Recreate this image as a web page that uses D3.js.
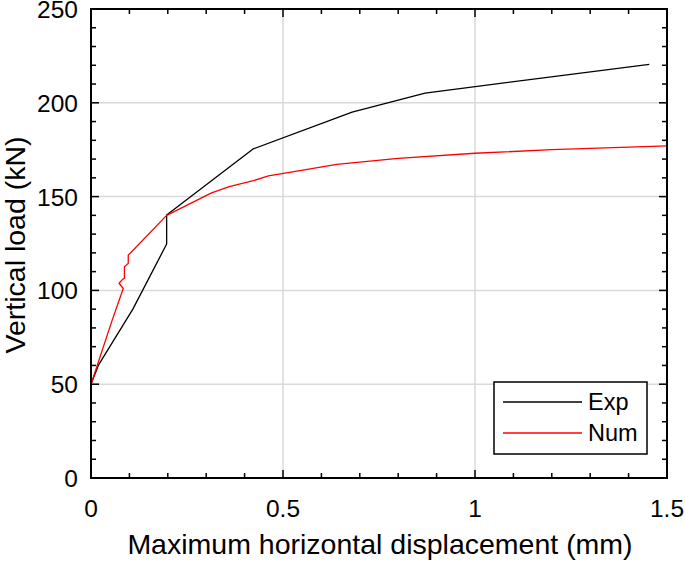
<!DOCTYPE html>
<html>
<head>
<meta charset="utf-8">
<script src="https://cdn.jsdelivr.net/npm/d3@7"></script>
<style>
body { margin: 0; background: #fff; }
text { font-family: "Liberation Sans", Arial, sans-serif; }
</style>
</head>
<body>
<svg id="chart" width="685" height="561"></svg>
<script>
// load vs displacement curves
var expX = [0, 0.019, 0.109, 0.197, 0.197, 0.422, 0.68, 0.87, 1.454];
var expY = [50, 60, 90, 124.7, 140.2, 175.4, 195, 205.2, 220.5];

var numX = [0, 0.055, 0.084, 0.073, 0.083, 0.087, 0.087, 0.097, 0.097, 0.102, 0.197, 0.314, 0.36, 0.423, 0.462, 0.544, 0.64, 0.8, 1.0, 1.2, 1.5];
var numY = [50, 84, 101, 103.8, 106, 106.5, 112.6, 114.4, 118.9, 119.8, 140, 152, 155.3, 158.5, 161, 163.8, 167.2, 170.4, 173.1, 175, 177];

var xTicks = [0, 0.5, 1, 1.5];
var yTicks = [0, 50, 100, 150, 200, 250];
var seriesNames = ["Exp", "Num"];
var seriesColors = ["#000000", "#ff0000"];

var margin = { top: 9, left: 91, right: 18, bottom: 83 };
var width = 685, height = 561;

var svg = d3.select("#chart");

var x = d3.scaleLinear().domain([0, 1.5]).range([margin.left, width - margin.right]);
var y = d3.scaleLinear().domain([0, 250]).range([height - margin.bottom, margin.top]);

// grid
svg.append("g").selectAll("line").data(xTicks.slice(1, -1)).enter().append("line")
    .attr("x1", function(d) { return x(d) }).attr("x2", function(d) { return x(d) })
    .attr("y1", y(0)).attr("y2", y(250))
    .attr("stroke", "#d9d9d9").attr("stroke-width", 1.5);
svg.append("g").selectAll("line").data(yTicks.slice(1, -1)).enter().append("line")
    .attr("y1", function(d) { return y(d) }).attr("y2", function(d) { return y(d) })
    .attr("x1", x(0)).attr("x2", x(1.5))
    .attr("stroke", "#d9d9d9").attr("stroke-width", 1.5);

// lines
var line = d3.line()
    .x(function(d) { return x(d[0]) })
    .y(function(d) { return y(d[1]) });

var series = [d3.zip(expX, expY), d3.zip(numX, numY)];
svg.append("g").selectAll("path").data(series).enter().append("path")
    .attr("d", line)
    .attr("fill", "none")
    .attr("stroke", function(d, i) { return seriesColors[i] })
    .attr("stroke-width", 1.3)
    .attr("stroke-linejoin", "round");

// ticks, inward on all four sides
var xMinor = d3.range(0, 1.5001, 0.1);
var yMinor = d3.range(0, 250.01, 10);
var ticks = svg.append("g").attr("stroke", "#000").attr("stroke-width", 1.5);
xMinor.forEach(function(v) {
    var len = xTicks.some(function(t) { return Math.abs(t - v) < 1e-6 }) ? 8 : 5;
    ticks.append("line").attr("x1", x(v)).attr("x2", x(v)).attr("y1", y(0)).attr("y2", y(0) - len);
    ticks.append("line").attr("x1", x(v)).attr("x2", x(v)).attr("y1", y(250)).attr("y2", y(250) + len);
});
yMinor.forEach(function(v) {
    var len = yTicks.some(function(t) { return Math.abs(t - v) < 1e-6 }) ? 8 : 5;
    ticks.append("line").attr("y1", y(v)).attr("y2", y(v)).attr("x1", x(0)).attr("x2", x(0) + len);
    ticks.append("line").attr("y1", y(v)).attr("y2", y(v)).attr("x1", x(1.5)).attr("x2", x(1.5) - len);
});

// box
svg.append("rect")
    .attr("x", x(0)).attr("y", y(250))
    .attr("width", x(1.5) - x(0)).attr("height", y(0) - y(250))
    .attr("fill", "none").attr("stroke", "#000").attr("stroke-width", 2);

// tick labels
svg.append("g").selectAll("text").data(xTicks).enter().append("text")
    .attr("x", function(d) { return x(d) })
    .attr("y", y(0) + 39)
    .attr("text-anchor", "middle")
    .attr("font-size", 24.5)
    .text(function(d) { return d });
svg.append("g").selectAll("text").data(yTicks).enter().append("text")
    .attr("x", x(0) - 13)
    .attr("y", function(d) { return y(d) + 9 })
    .attr("text-anchor", "end")
    .attr("font-size", 24.5)
    .text(function(d) { return d });

// axis titles
svg.append("text")
    .attr("x", 380)
    .attr("y", 554)
    .attr("text-anchor", "middle")
    .attr("font-size", 28.5)
    .text("Maximum horizontal displacement (mm)");
svg.append("text")
    .attr("transform", "translate(25,245) rotate(-90)")
    .attr("text-anchor", "middle")
    .attr("font-size", 28.5)
    .text("Vertical load (kN)");

// legend
var legend = svg.append("g").attr("transform", "translate(494,382)");
legend.append("rect").attr("width", 153).attr("height", 72)
    .attr("fill", "#fff").attr("stroke", "#000").attr("stroke-width", 1.5);
seriesNames.forEach(function(name, i) {
    var ly = 20 + i * 31;
    legend.append("line").attr("x1", 9).attr("x2", 88).attr("y1", ly).attr("y2", ly)
        .attr("stroke", seriesColors[i]).attr("stroke-width", 1.3);
    legend.append("text").attr("x", 94).attr("y", ly + 8).attr("font-size", 23.5).text(name);
});
</script>
</body>
</html>
